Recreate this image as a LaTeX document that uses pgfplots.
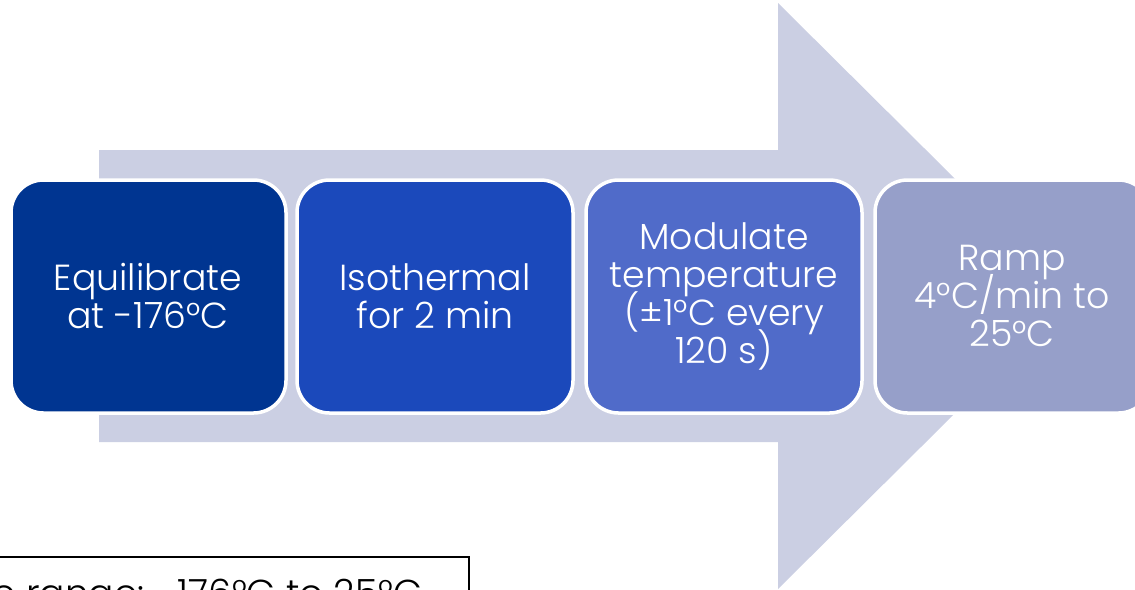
\documentclass[border=0pt]{standalone}
\usepackage{pgfplots}
\pgfplotsset{compat=1.18}
\usepackage{fontspec}
\setmainfont{Poppins}[UprightFont=* Light]
\definecolor{arrowc}{RGB}{203,207,227}
\definecolor{stepa}{RGB}{0,53,145}
\definecolor{stepb}{RGB}{27,73,187}
\definecolor{stepc}{RGB}{80,107,201}
\definecolor{stepd}{RGB}{150,159,201}
\tikzset{steptext/.style={font={\fontsize{14.5}{15.2}\selectfont\lineskiplimit=-20pt}, text=white, align=center}}

\begin{document}
\begin{tikzpicture}
\begin{axis}[
    scale only axis, width=454pt, height=235.6pt,
    xmin=0, xmax=1135, ymin=0, ymax=589, y dir=reverse,
    axis lines=none, ticks=none, clip=true
]
% big background arrow
\addplot[fill=arrowc, draw=none] coordinates {(99,150)(778,150)(778,3)(1073,296)(778,589)(778,442)(99,442)} -- cycle;
% step boxes
\addplot[fill=stepa, draw=white, line width=1.4pt, rounded corners=13pt] coordinates {(148,180)(286,180)(286,413)(11,413)(11,180)} -- cycle;
\addplot[fill=stepb, draw=white, line width=1.4pt, rounded corners=13pt] coordinates {(435,180)(573,180)(573,413)(297,413)(297,180)} -- cycle;
\addplot[fill=stepc, draw=white, line width=1.4pt, rounded corners=13pt] coordinates {(724,180)(862,180)(862,413)(586,413)(586,180)} -- cycle;
\addplot[fill=stepd, draw=white, line width=1.4pt, rounded corners=13pt] coordinates {(1012,180)(1151,180)(1151,413)(875,413)(875,180)} -- cycle;
\node[steptext] at (axis cs:148,296) {Equilibrate\\at -176°C};
\node[steptext] at (axis cs:435,296) {Isothermal\\for 2 min};
\node[steptext] at (axis cs:724,296) {Modulate\\temperature\\(±1°C every\\120 s)};
\node[steptext] at (axis cs:1012,296) {Ramp\\4°C/min to\\25°C};
% range box at the bottom
\addplot[draw=black, line width=0.5pt] coordinates {(-10,557)(469,557)(469,640)};
\node[anchor=base east, font=\fontsize{15}{15.2}\selectfont, text=black] at (axis cs:431,606) {Temperature range: -176°C to 25°C};
\end{axis}
\pgfresetboundingbox
\path[use as bounding box] (current axis.south west) rectangle (current axis.north east);
\end{tikzpicture}
\end{document}
